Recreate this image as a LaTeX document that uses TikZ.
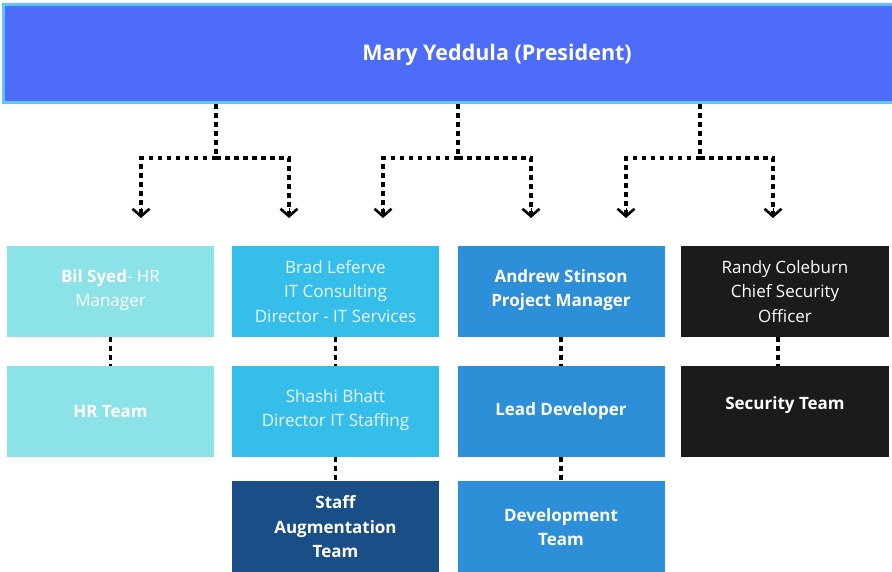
\documentclass[tikz,border=0pt]{standalone}
\usepackage{fontspec}
\setmainfont{Open Sans}
\usetikzlibrary{arrows.meta}
\definecolor{barfill}{HTML}{4D6CF8}
\definecolor{barline}{HTML}{5CC6F4}
\definecolor{cone}{HTML}{8BE2E7}
\definecolor{ctwo}{HTML}{36BEEB}
\definecolor{cthree}{HTML}{2C8FD8}
\definecolor{cfour}{HTML}{1B1B1B}
\definecolor{cstaff}{HTML}{1A4E86}
\definecolor{txtlight}{HTML}{EAF8FD}
\tikzset{
  box/.style={rectangle, inner sep=0pt, minimum width=207pt, minimum height=91pt,
    align=center, font=\fontsize{17}{24.5}\selectfont, text=white},
  boldbox/.style={box, font=\fontsize{17}{24.5}\selectfont\bfseries},
  dotline/.style={draw=black, line width=3.2pt, dash pattern=on 4.5pt off 4.5pt},
  chev/.style={-{Straight Barb[length=7.5pt,width=17pt,line width=2.6pt]}},
}
\begin{document}
\begin{tikzpicture}[x=1pt,y=-1pt]
\useasboundingbox (0,0) rectangle (892,571);
% top bar
\node[rectangle, fill=barfill, draw=barline, line width=3pt, minimum width=900pt, minimum height=98pt, inner sep=0pt] (bar) at (453.5,53) {};
\node[text=white, font=\fontsize{21.5}{24}\selectfont\bfseries] (pres) at (497,55) {Mary Yeddula (President)};
% boxes
\node[box, fill=cone] (bil) at (110.5,291.5) {\textbf{Bil Syed}- HR\\Manager\\[-18pt]};
\node[box, fill=ctwo, text=txtlight] (brad) at (335.5,291.5) {Brad Leferve\\IT Consulting\\Director - IT Services};
\node[boldbox, fill=cthree] (andrew) at (561,291.5) {Andrew Stinson\\Project Manager\\[-18pt]};
\node[box, fill=cfour, minimum width=208pt] (randy) at (785,291.5) {Randy Coleburn\\Chief Security\\Officer};
\node[boldbox, fill=cone] (hr) at (110.5,411.5) {HR Team};
\node[box, fill=ctwo, text=txtlight] (shashi) at (335.5,411.5) {Shashi Bhatt\\Director IT Staffing\\[-18pt]};
\node[boldbox, fill=cthree] (lead) at (561,411.5) {Lead Developer};
\node[boldbox, fill=cfour, minimum width=208pt] (sec) at (785,411.5) {Security Team\\[-8pt]};
\node[boldbox, fill=cstaff, minimum height=92pt] (staff) at (335.5,527) {Staff\\Augmentation\\Team};
\node[boldbox, fill=cthree, minimum height=92pt] (dev) at (561,527) {Development\\Team};
% top connectors
\coordinate (t1) at (216,104); \coordinate (h1) at (216,158);
\coordinate (a1) at (141,218); \coordinate (a2) at (289,218);
\coordinate (t2) at (458,104); \coordinate (h2) at (458,158);
\coordinate (a3) at (383,218); \coordinate (a4) at (531,218);
\coordinate (t3) at (700,104); \coordinate (h3) at (700,158);
\coordinate (a5) at (626,218); \coordinate (a6) at (773,218);
\foreach \t/\h/\l/\r in {t1/h1/a1/a2, t2/h2/a3/a4, t3/h3/a5/a6}{
  \path[dotline] (\t) -- (\h);
  \path[dotline] (\h) -| (\l);
  \path[dotline] (\h) -| (\r);
  \draw[chev] (\l |- 0,208) -- (\l);
  \draw[chev] (\r |- 0,208) -- (\r);
}
% vertical connectors between boxes
\path[dotline] (bil.south) -- (hr.north);
\path[dotline] (brad.south) -- (shashi.north);
\path[dotline] (andrew.south) -- (lead.north);
\path[dotline] ([xshift=-7pt]randy.south) -- ([xshift=-7pt]sec.north);
\path[dotline] (shashi.south) -- (staff.north);
\path[dotline] (lead.south) -- (dev.north);
\end{tikzpicture}
\end{document}
